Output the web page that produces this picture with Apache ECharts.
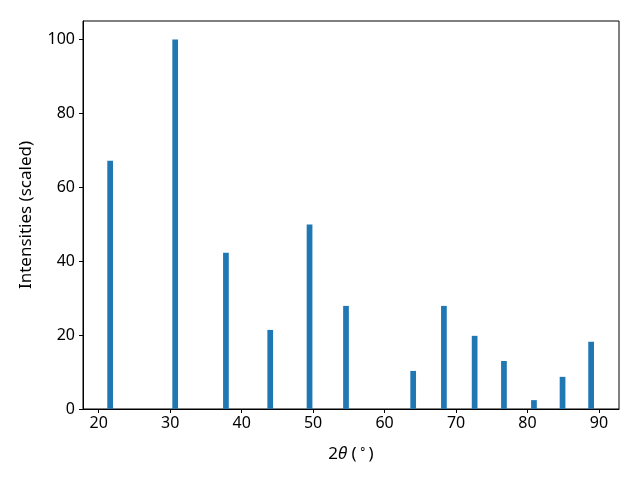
<!DOCTYPE html>
<html><head><meta charset="utf-8">
<script src="https://cdn.jsdelivr.net/npm/echarts@6/dist/echarts.min.js"></script>
<style>html,body{margin:0;padding:0;background:#fff}#c{width:640px;height:480px}</style>
</head><body><div id="c"></div>
<script>
const positions = [21.6, 30.7, 37.8, 44.0, 49.5, 54.6, 64.0, 68.3, 72.6, 76.7, 80.9, 84.9, 88.9];
const intensities = [67.2, 100, 42.3, 21.4, 49.9, 27.9, 10.3, 27.9, 19.8, 13.0, 2.4, 8.7, 18.2];
const xTicks = [20, 30, 40, 50, 60, 70, 80, 90];
const yTicks = [0, 20, 40, 60, 80, 100];
const barHalfWidth = 0.4;

const data = positions.map((p, i) => [p, intensities[i]]);
const chart = echarts.init(document.getElementById('c'), null, {renderer: 'canvas'});
const font = 'Noto Sans';
const fs = 16;
const nfs = 17;
chart.setOption({
  animation: false,
  backgroundColor: '#fff',
  grid: {left: 83, right: 21, top: 21, bottom: 71, show: true, borderColor: '#000', borderWidth: 1},
  xAxis: {
    type: 'value', min: 17.8, max: 92.8,
    splitLine: {show: false},
    axisLine: {show: true, onZero: false, lineStyle: {color: '#000', width: 1}},
    axisTick: {show: true, length: 4, lineStyle: {color: '#000'}, customValues: xTicks},
    axisLabel: {customValues: xTicks, color: '#000', fontFamily: font, fontSize: fs, margin: 6},
    name: '{a|2}{b|θ}{a| (}{c|∘}{a|)}',
    nameLocation: 'middle', nameGap: 35,
    nameTextStyle: {rich: {
      a: {fontFamily: font, fontSize: nfs, color: '#000'},
      b: {fontFamily: font, fontSize: nfs, fontStyle: 'italic', color: '#000'},
      c: {fontFamily: font, fontSize: 12, color: '#000', verticalAlign: 'top', padding: [0, 2, 8, 2]}
    }}
  },
  yAxis: {
    type: 'value', min: 0, max: 105,
    splitLine: {show: false},
    axisLine: {show: true, lineStyle: {color: '#000', width: 1}},
    axisTick: {show: true, length: 4, lineStyle: {color: '#000'}, customValues: yTicks},
    axisLabel: {customValues: yTicks, color: '#000', fontFamily: font, fontSize: fs, margin: 8},
    name: 'Intensities (scaled)', nameLocation: 'middle', nameGap: 48,
    nameTextStyle: {fontFamily: font, fontSize: nfs, color: '#000'}
  },
  series: [{
    type: 'custom',
    data: data,
    renderItem: function (params, api) {
      const x = api.value(0), y = api.value(1);
      const p1 = api.coord([x - barHalfWidth, y]);
      const p2 = api.coord([x + barHalfWidth, 0]);
      return {type: 'rect', shape: {x: p1[0], y: p1[1], width: p2[0] - p1[0], height: p2[1] - p1[1]},
        style: {fill: '#1f77b4'}};
    },
    encode: {x: 0, y: 1}
  }]
});
</script></body></html>
